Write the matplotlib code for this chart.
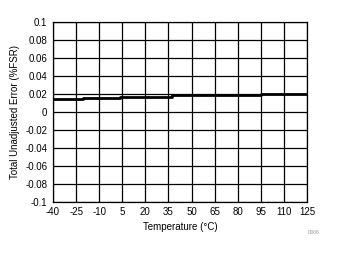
import matplotlib
matplotlib.use('Agg')
import matplotlib.pyplot as plt

plt.rcParams['font.family'] = ['Liberation Sans', 'DejaVu Sans']

# step edges (temperature, C) and error level (%FSR) of each step
temps = [-40, -20.7, 3.5, 37, 62.4, 95, 125]
tue = [0.0144, 0.0161, 0.0172, 0.0185, 0.0189, 0.0202, 0.0202]

xticks = [-40, -25, -10, 5, 20, 35, 50, 65, 80, 95, 110, 125]
yticks = [-0.1, -0.08, -0.06, -0.04, -0.02, 0, 0.02, 0.04, 0.06, 0.08, 0.1]
ylabels = ['-0.1', '-0.08', '-0.06', '-0.04', '-0.02', '0', '0.02', '0.04', '0.06', '0.08', '0.1']

fig = plt.figure(figsize=(3.4, 2.54), dpi=100)
ax = fig.add_axes([0.156, 0.205, 0.747, 0.708])

ax.step(temps, tue, where='post', color='black', lw=2)

ax.set_xlim(-40, 125)
ax.set_ylim(-0.1, 0.1)
ax.set_xticks(xticks)
ax.set_xticklabels([str(t) for t in xticks])
ax.set_yticks(yticks)
ax.set_yticklabels(ylabels)
ax.grid(True, color='black', lw=0.9)
ax.tick_params(length=0, labelsize=7, pad=4)
for s in ax.spines.values():
    s.set_linewidth(0.9)

ax.set_xlabel('Temperature (°C)', fontsize=7, labelpad=3)
ax.set_ylabel('Total Unadjusted Error (%FSR)', fontsize=7, labelpad=4)
fig.text(0.94, 0.08, 'D006', fontsize=3.5, color='#999999', ha='right')

fig.savefig('out.png', dpi=100)
